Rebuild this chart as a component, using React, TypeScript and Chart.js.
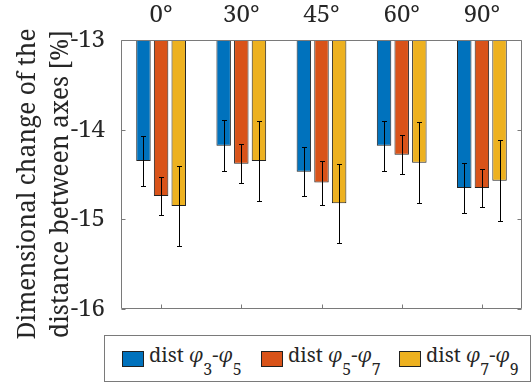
import React, { useEffect, useRef } from "react";
import { Chart, registerables } from "chart.js";

Chart.register(...registerables);

const categories = ["0°", "30°", "45°", "60°", "90°"];
const subscripts = [["3", "5"], ["5", "7"], ["7", "9"]];
const dist35 = [-14.35, -14.18, -14.47, -14.18, -14.65];
const dist57 = [-14.74, -14.38, -14.59, -14.28, -14.65];
const dist79 = [-14.85, -14.35, -14.82, -14.37, -14.57];
const err35 = [0.28, 0.285, 0.275, 0.28, 0.28];
const err57 = [0.215, 0.215, 0.245, 0.215, 0.21];
const err79 = [0.445, 0.45, 0.44, 0.45, 0.45];
const yTicks = [-16, -15, -14, -13];
const yTitle = ["Dimensional change of the", "distance between axes [%]"];
const colors = ["#0072BD", "#D95319", "#EDB120"];
const baseLine = -13;

const FONT = "'Noto Serif', 'DejaVu Serif', serif";
const AXIS_GRAY = "#7a7a7a";
const TEXT = "#262626";

const errors = [err35, err57, err79];

// Error whiskers, drawn from each bar's centre through the y scale.
const errorBarPlugin = {
  id: "errorBars",
  afterDatasetsDraw(chart: any) {
    const { ctx } = chart;
    const y = chart.scales.y;
    ctx.save();
    ctx.strokeStyle = "#000";
    ctx.lineWidth = 1;
    chart.data.datasets.forEach((ds: any, di: number) => {
      const meta = chart.getDatasetMeta(di);
      meta.data.forEach((bar: any, i: number) => {
        const v = ds.data[i][1];
        const e = errors[di][i];
        const yTop = Math.round(y.getPixelForValue(v + e)) + 0.5;
        const yBot = Math.round(y.getPixelForValue(v - e)) + 0.5;
        const x = Math.round(bar.x) + 0.5;
        ctx.beginPath();
        ctx.moveTo(x, yTop);
        ctx.lineTo(x, yBot);
        ctx.moveTo(x - 2.5, yTop);
        ctx.lineTo(x + 2.5, yTop);
        ctx.moveTo(x - 2.5, yBot);
        ctx.lineTo(x + 2.5, yBot);
        ctx.stroke();
      });
    });
    ctx.restore();
  },
};

// Axes box with inward tick marks on all four sides, plus the two-line y title.
const boxPlugin = {
  id: "axesBox",
  afterDraw(chart: any) {
    const { ctx, chartArea: a } = chart;
    const x = chart.scales.x;
    const y = chart.scales.y;
    ctx.save();
    ctx.strokeStyle = AXIS_GRAY;
    ctx.lineWidth = 1;
    const L = Math.round(a.left) + 0.5;
    const R = Math.round(a.right) - 0.5;
    const T = Math.round(a.top) + 0.5;
    const B = Math.round(a.bottom) - 0.5;
    ctx.beginPath();
    ctx.rect(L, T, R - L, B - T);
    categories.forEach((_, i) => {
      const px = Math.round(x.getPixelForValue(i)) + 0.5;
      ctx.moveTo(px, B);
      ctx.lineTo(px, B - 4);
    });
    yTicks.forEach((t) => {
      const py = Math.round(y.getPixelForValue(t)) + 0.5;
      ctx.moveTo(L, py);
      ctx.lineTo(L + 4, py);
      ctx.moveTo(R, py);
      ctx.lineTo(R - 4, py);
    });
    ctx.stroke();

    ctx.fillStyle = TEXT;
    ctx.font = `24.5px ${FONT}`;
    ctx.textAlign = "center";
    ctx.textBaseline = "alphabetic";
    ctx.translate(0, 184);
    ctx.rotate(-Math.PI / 2);
    yTitle.forEach((line, i) => {
      ctx.fillText(line, 0, 35 + i * 33);
    });
    ctx.restore();
  },
};

function LegendItem({ left, color, subs }: { left: number; color: string; subs: string[] }) {
  const sub = { fontSize: 16, verticalAlign: "-13px", lineHeight: "0" } as const;
  return (
    <div style={{ position: "absolute", left, top: 0, height: 44, whiteSpace: "nowrap" }}>
      <div
        style={{
          position: "absolute",
          left: 0,
          top: 15,
          width: 20,
          height: 14,
          background: color,
          border: "1px solid #222",
        }}
      />
      <div
        style={{
          position: "absolute",
          left: 27,
          top: 7,
          fontSize: 20,
          lineHeight: "24px",
          color: TEXT,
        }}
      >
        dist <i>φ</i>
        <span style={sub}>{subs[0]}</span>-<i>φ</i>
        <span style={sub}>{subs[1]}</span>
      </div>
    </div>
  );
}

function Legend() {
  const lefts = [17, 156, 294];
  return (
    <div
      style={{
        position: "absolute",
        left: 104,
        top: 335,
        width: 425,
        height: 45,
        border: `1px solid ${AXIS_GRAY}`,
        background: "#fff",
        fontFamily: FONT,
      }}
    >
      {lefts.map((l, i) => (
        <LegendItem key={i} left={l} color={colors[i]} subs={subscripts[i]} />
      ))}
    </div>
  );
}

export default function App() {
  const ref = useRef<HTMLCanvasElement>(null);

  useEffect(() => {
    if (!ref.current) return;
    const sets = [dist35, dist57, dist79];
    const chart = new Chart(ref.current, {
      type: "bar",
      data: {
        labels: categories,
        datasets: sets.map((vals, i) => ({
          label: `dist φ${subscripts[i][0]}-φ${subscripts[i][1]}`,
          data: vals.map((v) => [baseLine, v]) as any,
          backgroundColor: colors[i],
          borderColor: "#222",
          borderWidth: 1,
          borderSkipped: false,
          categoryPercentage: 0.66,
          barPercentage: 0.82,
        })),
      },
      options: {
        animation: false,
        responsive: false,
        maintainAspectRatio: false,
        layout: { padding: { top: 0, right: 9, bottom: 74, left: 0 } },
        plugins: {
          legend: { display: false },
          tooltip: { enabled: false },
        },
        scales: {
          x: {
            position: "top",
            grid: { display: false },
            border: { display: false },
            ticks: {
              color: TEXT,
              font: { family: FONT, size: 24 },
              padding: 2,
              maxRotation: 0,
            },
            afterFit(scale: any) {
              scale.height = 40;
            },
          },
          y: {
            min: -16,
            max: -13,
            grid: { display: false },
            border: { display: false },
            afterBuildTicks(scale: any) {
              scale.ticks = yTicks.map((v) => ({ value: v }));
            },
            ticks: {
              color: TEXT,
              font: { family: FONT, size: 24 },
              padding: 8,
            },
            afterFit(scale: any) {
              scale.width = 121;
            },
          },
        },
      },
      plugins: [errorBarPlugin, boxPlugin],
    });
    return () => chart.destroy();
  }, []);

  return (
    <div
      style={{
        position: "fixed",
        left: 0,
        top: 0,
        width: 531,
        height: 383,
        background: "#fff",
        fontFamily: FONT,
      }}
    >
      <canvas ref={ref} width={531} height={383} style={{ display: "block" }} />
      <Legend />
    </div>
  );
}
